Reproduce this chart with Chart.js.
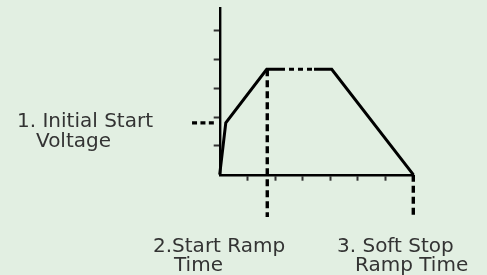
<!DOCTYPE html>
<html>
<head>
<meta charset="utf-8">
<script src="https://cdn.jsdelivr.net/npm/chart.js@4.4.1/dist/chart.umd.min.js"></script>
<style>
  html, body { margin: 0; padding: 0; background: #e2efe2; }
  #wrap { width: 487px; height: 275px; position: relative; }
</style>
</head>
<body>
<div id="wrap"><canvas id="c" width="487" height="275"></canvas></div>
<script>
// ---- data ----
const xTicks = [1, 2, 3, 4, 5, 6];
const yTicks = [1, 2, 3, 4, 5];
const xRange = [0, 7];
const yRange = [0, 5.79];

// soft start / soft stop voltage profile
const profileX = [0, 0.22, 1.70, 2.18, 3.41, 4.05, 7];
const profileY = [0, 1.80, 3.66, 3.66, 3.66, 3.66, 0];
const dashedSegment = 3; // segment between 2.18 and 3.41 is dashed

// guide lines
const startVoltageX = [-1.0, -0.16];
const startVoltageY = [1.80, 1.80];
const rampTimeX = [1.72, 1.72];
const rampTimeY = [3.66, -1.47];
const stopTimeX = [7, 7];
const stopTimeY = [0, -1.47];

const labelLines = [
  ['1. Initial Start', 'Voltage'],
  ['2.Start Ramp', 'Time'],
  ['3. Soft Stop', 'Ramp Time']
];

// ---- helpers ----
const pts = (xs, ys) => xs.map((x, i) => ({ x, y: ys[i] }));

const labelLayout = [
  [{ x: 17, y: 127 }, { x: 36, y: 147 }],
  [{ x: 153, y: 252 }, { x: 174, y: 271 }],
  [{ x: 337, y: 252 }, { x: 355, y: 271 }]
];

const labelPlugin = {
  id: 'labels',
  afterDraw(chart) {
    const ctx = chart.ctx;
    ctx.save();
    ctx.fillStyle = '#333333';
    ctx.font = '20px "DejaVu Sans"';
    ctx.textAlign = 'left';
    ctx.textBaseline = 'alphabetic';
    labelLines.forEach((lines, i) => {
      lines.forEach((t, j) => {
        const p = labelLayout[i][j];
        ctx.fillText(t, p.x, p.y);
      });
    });
    ctx.restore();
  }
};

const bgPlugin = {
  id: 'bg',
  beforeDraw(chart) {
    const ctx = chart.ctx;
    ctx.save();
    ctx.fillStyle = '#e2efe2';
    ctx.fillRect(0, 0, chart.width, chart.height);
    ctx.restore();
  }
};

const lineBase = {
  showLine: true,
  pointRadius: 0,
  borderColor: '#000',
  fill: false,
  clip: false,
  tension: 0
};

new Chart(document.getElementById('c'), {
  type: 'scatter',
  data: {
    datasets: [
      Object.assign({}, lineBase, {
        data: pts(profileX, profileY),
        borderWidth: 3,
        borderJoinStyle: 'miter',
        segment: {
          borderDash: ctx => ctx.p0DataIndex === dashedSegment ? [5, 4] : undefined
        }
      }),
      Object.assign({}, lineBase, {
        data: pts(startVoltageX, startVoltageY),
        borderWidth: 3.2,
        borderDash: [5, 3.4]
      }),
      Object.assign({}, lineBase, {
        data: pts(rampTimeX, rampTimeY),
        borderWidth: 3.4,
        borderDash: [7, 4]
      }),
      Object.assign({}, lineBase, {
        data: pts(stopTimeX, stopTimeY),
        borderWidth: 3.4,
        borderDash: [7, 4]
      })
    ]
  },
  options: {
    responsive: false,
    animation: false,
    events: [],
    layout: { padding: { left: 213.7, right: 73.7, top: 8, bottom: 94.3 } },
    plugins: { legend: { display: false }, tooltip: { enabled: false } },
    scales: {
      x: {
        type: 'linear',
        min: xRange[0],
        max: xRange[1],
        afterBuildTicks: s => { s.ticks = xTicks.map(v => ({ value: v })); },
        ticks: { display: false },
        grid: { drawOnChartArea: false, drawTicks: true, tickLength: 6, tickColor: '#333', tickWidth: 2 },
        border: { display: true, color: '#000', width: 2.4 }
      },
      y: {
        type: 'linear',
        min: yRange[0],
        max: yRange[1],
        afterBuildTicks: s => { s.ticks = yTicks.map(v => ({ value: v })); },
        ticks: { display: false },
        grid: { drawOnChartArea: false, drawTicks: true, tickLength: 6, tickColor: '#333', tickWidth: 2 },
        border: { display: true, color: '#000', width: 2.4 }
      }
    }
  },
  plugins: [bgPlugin, labelPlugin]
});
</script>
</body>
</html>
